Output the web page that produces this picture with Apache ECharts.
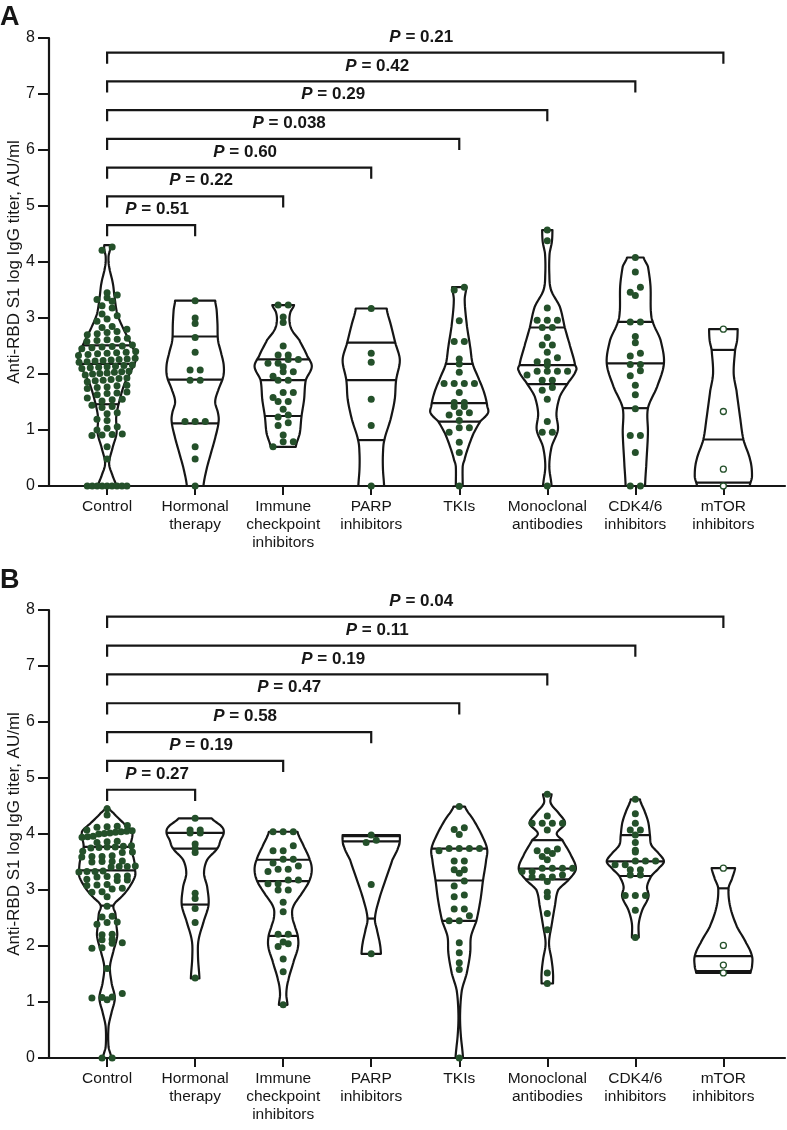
<!DOCTYPE html>
<html>
<head>
<meta charset="utf-8">
<script src="https://cdn.jsdelivr.net/npm/echarts@6/dist/echarts.min.js"></script>
<style>
html, body { margin: 0; padding: 0; background: #fff; }
#chart { width: 787px; height: 1130px; }
</style>
</head>
<body>
<div id="chart"></div>
<script>
var categories = ['Control', 'Hormonal\ntherapy', 'Immune\ncheckpoint\ninhibitors', 'PARP\ninhibitors',
	'TKIs', 'Monoclonal\nantibodies', 'CDK4/6\ninhibitors', 'mTOR\ninhibitors'];
var catTicks = [0, 1, 2, 3, 4, 5, 6, 7];
var hollowGroups = [7];

// ---- panel A: individual titers ----
var controlA = [0, 0, 0, 0, 0, 0, 0, 0, 0, 0.48, 0.70, 0.90, 0.91, 0.92, 0.93, 1.0, 1.03, 1.06, 1.17, 1.19,
	1.29, 1.31, 1.40, 1.42, 1.44, 1.52, 1.54, 1.55, 1.57, 1.63, 1.65, 1.66, 1.68, 1.74, 1.76, 1.77, 1.79, 1.80,
	1.86, 1.88, 1.89, 1.90, 1.92, 1.93, 1.98, 2.0, 2.01, 2.02, 2.03, 2.04, 2.05, 2.10, 2.11, 2.12, 2.13, 2.14,
	2.15, 2.16, 2.21, 2.22, 2.23, 2.24, 2.25, 2.26, 2.27, 2.28, 2.33, 2.35, 2.36, 2.37, 2.38, 2.39, 2.40,
	2.45, 2.47, 2.48, 2.49, 2.50, 2.52, 2.58, 2.60, 2.61, 2.62, 2.64, 2.70, 2.72, 2.74, 2.76, 2.80, 2.83, 2.85,
	2.94, 2.98, 3.04, 3.07, 3.18, 3.22, 3.30, 3.33, 3.36, 3.41, 3.45, 4.21, 4.27];
var hormonalA = [3.31, 3.0, 2.9, 2.65, 2.39, 2.07, 2.07, 1.89, 1.89, 1.15, 1.15, 1.15, 0.70, 0.48, 0];
var immuneA = [3.23, 3.23, 3.02, 2.92, 2.5, 2.34, 2.34, 2.26, 2.26, 2.19, 2.19, 2.13, 2.04, 2.04, 1.96, 1.89, 1.89,
	1.67, 1.67, 1.58, 1.51, 1.51, 1.37, 1.27, 1.23, 1.13, 1.08, 0.91, 0.79, 0.79, 0.70];
var parpA = [3.17, 2.37, 2.21, 1.55, 1.08, 0];
var tkisA = [3.55, 3.5, 2.95, 2.58, 2.58, 2.27, 2.18, 2.03, 1.83, 1.83, 1.83, 1.83, 1.67, 1.49, 1.49, 1.42, 1.42,
	1.31, 1.31, 1.27, 1.17, 1.04, 1.04, 0.96, 0.78, 0.60, 0];
var monoA = [4.57, 4.38, 3.18, 2.96, 2.96, 2.96, 2.83, 2.83, 2.65, 2.52, 2.52, 2.39, 2.29, 2.22, 2.22, 2.16,
	2.05, 2.05, 2.05, 2.05, 1.98, 1.89, 1.89, 1.76, 1.71, 1.55, 1.15, 0.96, 0.96, 0];
var cdkA = [4.08, 3.82, 3.55, 3.46, 3.40, 2.93, 2.93, 2.67, 2.56, 2.37, 2.32, 2.17, 2.17, 2.06, 1.97, 1.80, 1.63,
	1.38, 0.90, 0.90, 0.60, 0, 0];
var mtorA = [2.80, 1.33, 0.30, 0];

// violin outlines, [titer, relative width]
var controlShapeA = [[0, 0.32], [0.17, 0.2], [0.40, 0.07], [0.70, 0.2], [0.94, 0.33], [1.24, 0.32], [1.54, 0.44],
	[1.83, 0.61], [2.07, 0.85], [2.25, 1.0], [2.37, 0.97], [2.61, 0.76], [2.85, 0.53], [3.08, 0.35], [3.38, 0.26],
	[3.62, 0.2], [3.92, 0.07], [4.10, 0.05], [4.22, 0.1], [4.30, 0.1]];
var hormonalShapeA = [[0, 0.29], [0.3, 0.4], [0.6, 0.56], [0.9, 0.72], [1.15, 0.82], [1.3, 0.8], [1.5, 0.7],
	[1.7, 0.8], [1.95, 0.98], [2.15, 1.0], [2.35, 0.92], [2.6, 0.8], [2.9, 0.78], [3.15, 0.75], [3.31, 0.7]];
var immuneShapeA = [[0.70, 0.44], [0.94, 0.58], [1.24, 0.64], [1.54, 0.73], [1.89, 0.79], [2.13, 1.0], [2.31, 0.85],
	[2.61, 0.56], [2.79, 0.3], [2.95, 0.22], [3.1, 0.25], [3.23, 0.38]];
var parpShapeA = [[0, 0.45], [0.3, 0.41], [0.58, 0.41], [0.82, 0.46], [1.18, 0.67], [1.54, 0.82], [1.89, 0.87],
	[2.25, 1.0], [2.56, 0.84], [2.85, 0.7], [3.17, 0.54]];
var tkisShapeA = [[0, 0.12], [0.35, 0.12], [0.46, 0.18], [0.70, 0.32], [0.94, 0.5], [1.15, 0.73], [1.30, 1.0],
	[1.42, 0.98], [1.65, 0.88], [1.89, 0.7], [2.18, 0.47], [2.49, 0.38], [2.85, 0.27], [3.32, 0.19], [3.55, 0.25]];
var monoShapeA = [[0, 0.15], [0.35, 0.07], [0.7, 0.15], [1.0, 0.37], [1.3, 0.32], [1.6, 0.44], [1.82, 0.7],
	[2.06, 1.0], [2.16, 0.97], [2.55, 0.77], [2.83, 0.61], [3.2, 0.44], [3.5, 0.13], [3.8, 0.07], [4.15, 0.08],
	[4.36, 0.16], [4.57, 0.18]];
var cdkShapeA = [[0, 0.34], [0.35, 0.38], [0.94, 0.44], [1.39, 0.44], [1.77, 0.76], [2.19, 1.0], [2.61, 0.88],
	[2.93, 0.61], [3.14, 0.54], [3.57, 0.53], [3.92, 0.44], [4.08, 0.29]];
var mtorShapeA = [[0, 0.92], [0.17, 1.0], [0.46, 0.94], [0.83, 0.7], [1.24, 0.58], [1.7, 0.46], [2.01, 0.36],
	[2.43, 0.41], [2.6, 0.48], [2.80, 0.5]];

// [Q1, median, Q3]
var quartilesA = [[1.46, 2.18, 2.51], [1.12, 1.90, 2.67], [1.25, 1.89, 2.26], [0.82, 1.89, 2.56],
	[1.15, 1.48, 2.18], [1.82, 2.16, 2.83], [1.39, 2.19, 2.93], [0.06, 0.83, 2.43]];
var pValuesA = ['0.51', '0.22', '0.60', '0.038', '0.29', '0.42', '0.21'];

// ---- panel B ----
var controlB = [4.45, 4.34, 4.12, 4.13, 4.14, 4.15, 4.0, 4.01, 4.02, 4.03, 4.04, 4.05, 4.06, 4.07, 3.94, 3.95, 3.96,
	3.85, 3.86, 3.87, 3.75, 3.76, 3.77, 3.77, 3.78, 3.79, 3.67, 3.68, 3.69, 3.59, 3.60, 3.60, 3.61, 3.50, 3.51,
	3.51, 3.52, 3.41, 3.42, 3.42, 3.43, 3.32, 3.33, 3.33, 3.34, 3.23, 3.24, 3.24, 3.25, 3.17, 3.18, 3.19, 3.08,
	3.09, 3.10, 3.02, 3.03, 2.96, 2.97, 2.88, 2.71, 2.52, 2.53, 2.42, 2.43, 2.39, 2.20, 2.21, 2.11, 2.12, 2.05,
	2.06, 1.96, 1.97, 1.60, 1.15, 1.07, 1.08, 1.09, 1.04, 0, 0];
var hormonalB = [4.28, 4.07, 4.07, 4.02, 4.02, 3.82, 3.74, 3.67, 2.94, 2.85, 2.67, 2.42, 1.43];
var immuneB = [4.04, 4.04, 4.04, 3.79, 3.70, 3.70, 3.55, 3.55, 3.48, 3.43, 3.37, 3.37, 3.33, 3.18, 3.18, 3.11,
	3.11, 3.0, 3.0, 2.78, 2.61, 2.21, 2.21, 2.07, 2.04, 1.99, 1.77, 1.54, 0.95];
var parpB = [3.98, 3.89, 3.85, 3.10, 1.86];
var tkisB = [4.49, 4.11, 4.08, 3.99, 3.74, 3.74, 3.74, 3.74, 3.70, 3.52, 3.52, 3.36, 3.36, 3.30, 3.16, 3.07,
	2.91, 2.88, 2.66, 2.66, 2.54, 2.45, 2.45, 2.06, 1.88, 1.70, 1.58, 0];
var monoB = [4.71, 4.32, 4.19, 4.19, 4.19, 4.19, 4.07, 3.73, 3.70, 3.70, 3.65, 3.60, 3.54, 3.39, 3.39, 3.39,
	3.39, 3.33, 3.33, 3.27, 3.23, 3.23, 3.23, 3.15, 2.96, 2.88, 2.58, 2.29, 1.52, 1.33];
var cdkB = [4.62, 4.36, 4.19, 4.07, 4.07, 3.98, 3.85, 3.71, 3.68, 3.52, 3.52, 3.52, 3.45, 3.45, 3.36, 3.36,
	3.27, 3.27, 2.90, 2.90, 2.90, 2.64, 2.15];
var mtorB = [3.39, 2.01, 1.66, 1.52];

var controlShapeB = [[0, 0.15], [0.2, 0.05], [0.56, 0.05], [0.80, 0.15], [1.07, 0.27], [1.33, 0.16], [1.63, 0.1],
	[1.93, 0.23], [2.17, 0.35], [2.35, 0.33], [2.58, 0.29], [2.73, 0.23], [2.91, 0.56], [3.06, 0.79], [3.24, 0.97],
	[3.35, 0.98], [3.54, 0.94], [3.77, 0.82], [4.04, 0.88], [4.19, 0.58], [4.37, 0.23], [4.49, 0.03]];
var hormonalShapeB = [[1.42, 0.15], [1.81, 0.1], [2.11, 0.12], [2.46, 0.31], [2.74, 0.47], [3.06, 0.42], [3.30, 0.31],
	[3.54, 0.42], [3.74, 0.77], [3.89, 0.89], [4.02, 1.0], [4.13, 0.93], [4.28, 0.58]];
var immuneShapeB = [[0.95, 0.15], [1.15, 0.11], [1.39, 0.18], [1.75, 0.38], [1.99, 0.52], [2.18, 0.51], [2.35, 0.41],
	[2.52, 0.32], [2.70, 0.35], [2.94, 0.65], [3.16, 0.91], [3.36, 1.0], [3.54, 0.93], [3.77, 0.73], [4.04, 0.5]];
var parpShapeB = [[1.86, 0.34], [2.05, 0.3], [2.29, 0.2], [2.49, 0.13], [2.82, 0.27], [3.18, 0.5], [3.54, 0.74],
	[3.77, 0.95], [3.89, 1.0], [3.98, 1.0]];
var tkisShapeB = [[0, 0.13], [0.44, 0.05], [0.80, 0.03], [1.21, 0.09], [1.51, 0.26], [1.87, 0.38], [2.17, 0.41],
	[2.45, 0.6], [2.82, 0.74], [3.17, 0.83], [3.54, 0.94], [3.74, 0.97], [4.01, 0.76], [4.25, 0.5], [4.49, 0.2]];
var monoShapeB = [[1.33, 0.2], [1.51, 0.2], [1.75, 0.15], [2.05, 0.06], [2.40, 0.16], [2.70, 0.26], [3.0, 0.38],
	[3.19, 0.76], [3.38, 1.0], [3.65, 0.8], [3.89, 0.53], [4.01, 0.33], [4.19, 0.62], [4.37, 0.4], [4.55, 0.12],
	[4.71, 0.15]];
var cdkShapeB = [[2.15, 0.12], [2.40, 0.12], [2.64, 0.24], [2.88, 0.46], [3.06, 0.41], [3.25, 0.56], [3.39, 0.82],
	[3.51, 1.0], [3.65, 0.82], [3.80, 0.56], [3.98, 0.51], [4.19, 0.46], [4.37, 0.35], [4.62, 0.16]];
var mtorShapeB = [[1.52, 0.95], [1.63, 1.0], [1.82, 1.0], [2.05, 0.8], [2.35, 0.47], [2.70, 0.24], [3.03, 0.18],
	[3.2, 0.3], [3.39, 0.41]];

var quartilesB = [[2.72, 3.35, 3.77], [2.74, 3.74, 4.02], [2.18, 3.16, 3.54], [2.49, 3.87, 3.96],
	[2.45, 3.17, 3.74], [3.19, 3.38, 3.89], [3.25, 3.51, 3.98], [1.55, 1.82, 3.03]];
var pValuesB = ['0.27', '0.19', '0.58', '0.47', '0.19', '0.11', '0.04'];

var dotsA = [controlA, hormonalA, immuneA, parpA, tkisA, monoA, cdkA, mtorA];
var shapesA = [controlShapeA, hormonalShapeA, immuneShapeA, parpShapeA, tkisShapeA, monoShapeA, cdkShapeA, mtorShapeA];
var dotsB = [controlB, hormonalB, immuneB, parpB, tkisB, monoB, cdkB, mtorB];
var shapesB = [controlShapeB, hormonalShapeB, immuneShapeB, parpShapeB, tkisShapeB, monoShapeB, cdkShapeB, mtorShapeB];

// ---- drawing ----
var FONT = '"Liberation Sans", Arial, sans-serif';
var INK = '#161616';
var GREEN = '#24502a';
var HALF = 0.325;      // max violin half width, in category units
var ROW = 0.125;       // titer bin for dot rows
var DOT_STEP = 0.115;  // horizontal dot spacing
var X_MIN = -0.66, X_MAX = 7.7;

function smoothShape(p) {
	var out = [];
	for (var i = 0; i < p.length - 1; i++) {
		var a = p[Math.max(i - 1, 0)][1], b = p[i][1], c = p[i + 1][1], d = p[Math.min(i + 2, p.length - 1)][1];
		for (var s = 0; s < 8; s++) {
			var t = s / 8, t2 = t * t, t3 = t2 * t;
			var w = 0.5 * (2 * b + (-a + c) * t + (2 * a - 5 * b + 4 * c - d) * t2 + (-a + 3 * b - 3 * c + d) * t3);
			out.push([p[i][0] + t * (p[i + 1][0] - p[i][0]), Math.max(0.02, w)]);
		}
	}
	out.push(p[p.length - 1]);
	return out;
}
function widthAt(sp, v) {
	if (v <= sp[0][0]) return sp[0][1];
	for (var i = 1; i < sp.length; i++) {
		if (v <= sp[i][0]) {
			var f = (v - sp[i - 1][0]) / ((sp[i][0] - sp[i - 1][0]) || 1);
			return sp[i - 1][1] + f * (sp[i][1] - sp[i - 1][1]);
		}
	}
	return sp[sp.length - 1][1];
}
function swarm(vals, sp, gi) {
	var sorted = vals.slice().sort(function (a, b) { return a - b; });
	var rows = {}, keys = [];
	sorted.forEach(function (v) {
		var k = Math.round(v / ROW);
		if (!rows[k]) { rows[k] = []; keys.push(k); }
		rows[k].push(v);
	});
	var out = [];
	keys.forEach(function (k) {
		var r = rows[k], n = r.length;
		var span = Math.max(0.45, 2 * HALF * widthAt(sp, r[0]));
		var step = n > 1 ? Math.min(DOT_STEP, span / (n - 1)) : 0;
		r.forEach(function (v, j) { out.push([gi + (j - (n - 1) / 2) * step, v]); });
	});
	return out;
}

function panelSeries(pi, dots, shapes, quarts, pvals, base, stepLvl) {
	var sm = shapes.map(smoothShape);
	var series = [];
	series.push({
		type: 'custom', xAxisIndex: pi, yAxisIndex: pi, clip: false, z: 2,
		data: categories.map(function (c, i) { return [i, 0]; }),
		encode: { x: 0, y: 1 },
		renderItem: function (params, api) {
			var i = params.dataIndex, sp = sm[i];
			var pts = [];
			sp.forEach(function (p) { pts.push(api.coord([i + p[1] * HALF, p[0]])); });
			for (var k = sp.length - 1; k >= 0; k--) pts.push(api.coord([i - sp[k][1] * HALF, sp[k][0]]));
			var kids = [{
				type: 'polygon', shape: { points: pts },
				style: { fill: 'none', stroke: INK, lineWidth: 2.2, lineJoin: 'round' }
			}];
			quarts[i].forEach(function (q) {
				var w = widthAt(sp, q) * HALF;
				var l = api.coord([i - w, q]), r = api.coord([i + w, q]);
				kids.push({ type: 'line', shape: { x1: l[0], y1: l[1], x2: r[0], y2: r[1] },
					style: { stroke: INK, lineWidth: 2.2 } });
			});
			return { type: 'group', children: kids };
		}
	});
	var filled = [], hollow = [];
	dots.forEach(function (vals, gi) {
		var pts = swarm(vals, sm[gi], gi);
		if (hollowGroups.indexOf(gi) >= 0) hollow = hollow.concat(pts); else filled = filled.concat(pts);
	});
	series.push({
		type: 'scatter', xAxisIndex: pi, yAxisIndex: pi, z: 3, symbolSize: 7, data: filled,
		itemStyle: { color: GREEN, opacity: 1 }, silent: true
	});
	series.push({
		type: 'scatter', xAxisIndex: pi, yAxisIndex: pi, z: 3, symbolSize: 6, data: hollow,
		itemStyle: { color: '#fff', borderColor: GREEN, borderWidth: 1.3, opacity: 1 }, silent: true
	});
	series.push({
		type: 'custom', xAxisIndex: pi, yAxisIndex: pi, clip: false, z: 4,
		data: pvals.map(function (p, k) { return [k + 1, base + k * stepLvl]; }),
		encode: { x: 0, y: 1 },
		renderItem: function (params, api) {
			var g = api.value(0), lv = api.value(1);
			var p0 = api.coord([0, lv - 0.2]), p1 = api.coord([0, lv]);
			var p2 = api.coord([g, lv]), p3 = api.coord([g, lv - 0.2]);
			return {
				type: 'group', children: [{
					type: 'polyline', shape: { points: [p0, p1, p2, p3] },
					style: { fill: 'none', stroke: INK, lineWidth: 2.2 }
				}, {
					type: 'text',
					style: {
						x: (p1[0] + p2[0]) / 2 + 6, y: p1[1] - 7, align: 'center', verticalAlign: 'bottom',
						text: '{p|P} = ' + pvals[params.dataIndex],
						fontSize: 17, fontWeight: 'bold', fontFamily: FONT, fill: INK,
						rich: { p: { fontSize: 17, fontWeight: 'bold', fontStyle: 'italic', fontFamily: FONT, fill: INK } }
					}
				}]
			};
		}
	});
	return series;
}

function xAxisFor(gi) {
	return {
		type: 'value', gridIndex: gi, min: X_MIN, max: X_MAX,
		axisLine: { show: true, onZero: false, lineStyle: { color: INK, width: 2.2 } },
		axisTick: { show: true, customValues: catTicks, length: 9, lineStyle: { color: INK, width: 2 } },
		axisLabel: {
			customValues: catTicks, margin: 12, fontSize: 15.5, lineHeight: 18, color: INK, fontFamily: FONT,
			formatter: function (v) { return categories[Math.round(v)]; }
		},
		splitLine: { show: false }
	};
}
function yAxisFor(gi) {
	return {
		type: 'value', gridIndex: gi, min: 0, max: 8, interval: 1,
		name: 'Anti-RBD S1 log IgG titer, AU/ml', nameLocation: 'middle', nameGap: 26, nameMoveOverlap: false,
		nameTextStyle: { fontSize: 17, color: INK, fontFamily: FONT },
		axisLine: { show: true, onZero: false, lineStyle: { color: INK, width: 2.2 } },
		axisTick: { show: true, length: 11, lineStyle: { color: INK, width: 2 } },
		axisLabel: { margin: 14, fontSize: 16, color: INK, fontFamily: FONT },
		splitLine: { show: false }
	};
}

var chart = echarts.init(document.getElementById('chart'), null, { renderer: 'canvas' });
chart.setOption({
	animation: false,
	backgroundColor: '#fff',
	grid: [
		{ left: 49, right: 2, top: 38, height: 448, containLabel: false, outerBoundsMode: 'none' },
		{ left: 49, right: 2, top: 610, height: 448, containLabel: false, outerBoundsMode: 'none' }
	],
	xAxis: [xAxisFor(0), xAxisFor(1)],
	yAxis: [yAxisFor(0), yAxisFor(1)],
	graphic: [
		{ type: 'text', left: 0, top: 4, style: { text: 'A', fontSize: 27, fontWeight: 'bold', fontFamily: FONT, fill: INK } },
		{ type: 'text', left: 0, top: 567, style: { text: 'B', fontSize: 27, fontWeight: 'bold', fontFamily: FONT, fill: INK } }
	],
	series: panelSeries(0, dotsA, shapesA, quartilesA, pValuesA, 4.66, 0.513)
		.concat(panelSeries(1, dotsB, shapesB, quartilesB, pValuesB, 4.79, 0.515))
});
</script>
</body>
</html>
